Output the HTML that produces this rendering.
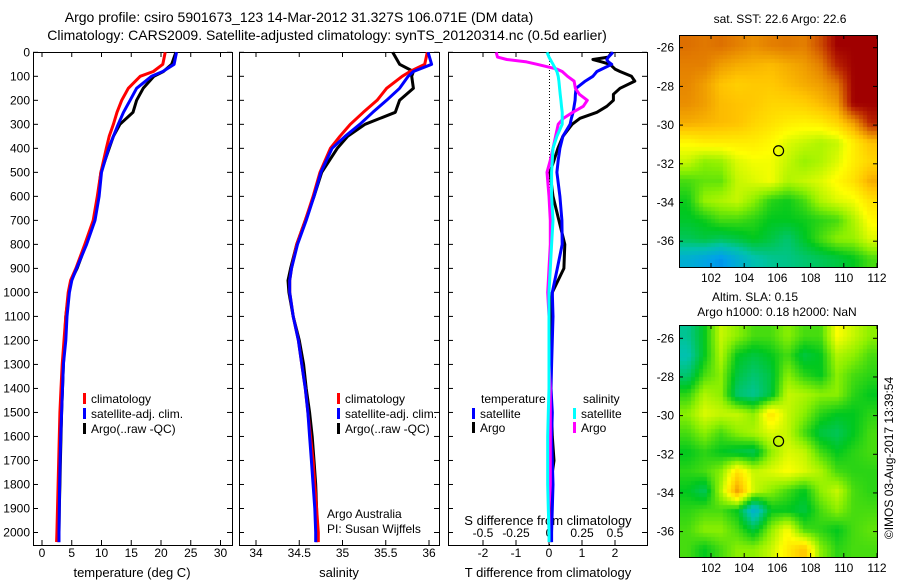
<!DOCTYPE html>
<html><head><meta charset="utf-8">
<style>
html,body{margin:0;padding:0;background:#fff;}
#root{position:relative;width:900px;height:580px;overflow:hidden;font-family:"Liberation Sans",sans-serif;}
svg{position:absolute;left:0;top:0;}
canvas{position:absolute;}
</style></head>
<body>
<div id="root">
<canvas id="map1" style="left:679px;top:35px" width="198" height="232"></canvas>
<canvas id="map2" style="left:679px;top:325px" width="198" height="232"></canvas>
<svg id="svg" width="900" height="580" xmlns="http://www.w3.org/2000/svg" font-family="Liberation Sans, sans-serif" font-size="12"></svg>
</div>
<script>
// ---------- data ----------
const depthTS = [0,50,80,100,150,200,250,300,350,400,500,600,700,800,900,950,1000,1100,1200,1300,1400,1500,1600,1700,1800,1900,2000,2040];
const tempClim = [20.7,20.3,18.7,16.5,14.5,13.4,12.6,12.0,11.3,10.8,9.9,9.3,8.6,7.2,5.7,4.8,4.4,4.0,3.7,3.4,3.2,3.0,2.9,2.8,2.7,2.6,2.5,2.45];
const tempSat = [22.6,22.2,20.3,18.4,15.9,14.8,13.7,12.8,12.0,11.2,10.0,9.6,8.9,7.5,5.8,5.0,4.6,4.2,4.0,3.6,3.45,3.3,3.15,3.05,2.95,2.9,2.85,2.85];
const tempArgo = [22.5,21.8,20.4,18.8,17.0,15.9,15.3,13.1,12.0,11.3,9.9,9.4,8.8,7.4,5.9,4.9,4.5,4.0,3.8,3.6,3.45,3.3,3.2,3.1,3.0,2.9,2.85,2.85];
const salClim = [35.98,35.95,35.78,35.69,35.51,35.40,35.24,35.09,34.97,34.86,34.74,34.66,34.57,34.47,34.41,34.39,34.39,34.43,34.49,34.53,34.57,34.60,34.63,34.66,34.68,34.70,34.72,34.72];
const salSat = [35.99,36.03,35.82,35.76,35.66,35.51,35.35,35.20,35.03,34.88,34.75,34.67,34.58,34.48,34.41,34.39,34.39,34.43,34.49,34.53,34.57,34.60,34.62,34.64,34.66,34.68,34.69,34.69];
const salArgo = [35.58,35.66,35.82,35.80,35.82,35.66,35.61,35.26,35.06,34.94,34.76,34.67,34.57,34.47,34.40,34.37,34.38,34.43,34.50,34.55,34.58,34.62,34.65,34.67,34.69,34.70,34.70,34.70];
const depthDiff = [0,20,30,40,50,70,80,100,120,150,175,200,225,250,275,300,350,400,450,500,600,700,800,900,1000,1100,1200,1300,1400,1500,1600,1700,1800,1900,2000,2040];
const tDiffSat = [1.94,1.8,1.75,1.8,1.9,1.6,1.45,1.33,1.1,0.82,0.8,0.79,0.76,0.73,0.68,0.64,0.42,0.33,0.28,0.24,0.33,0.39,0.4,0.25,0.1,0.12,0.1,0.08,0.06,0.1,0.08,0.1,0.12,0.1,0.08,0.08];
const tDiffArgo = [1.9,1.8,1.33,1.6,1.85,2.0,2.15,2.5,2.6,2.15,1.95,1.95,1.75,1.45,0.94,0.7,0.42,0.27,0.15,0.03,0.12,0.3,0.48,0.45,0.1,0.05,0.05,0.05,0.05,0.08,0.1,0.15,0.05,0.03,0.05,0.05];
const sDiffSat = [-0.015,0.0,0.01,0.02,0.03,0.05,0.06,0.07,0.075,0.08,0.085,0.09,0.095,0.1,0.1,0.1,0.06,0.03,0.025,0.02,0.02,0.03,0.02,0.01,0.0,0.0,0.0,0.0,0.0,-0.005,-0.01,-0.01,-0.01,-0.005,0.0,0.0];
const sDiffArgo = [-0.4,-0.39,-0.32,-0.17,-0.09,0.06,0.1,0.14,0.19,0.2,0.23,0.29,0.26,0.18,0.11,0.07,0.05,0.03,0.01,-0.015,0.0,0.01,0.01,0.0,-0.01,0.0,0.0,0.0,0.01,0.01,0.01,0.01,0.01,0.0,0.0,0.0];
const depthTicks = [0,100,200,300,400,500,600,700,800,900,1000,1100,1200,1300,1400,1500,1600,1700,1800,1900,2000];
const tempTicks = [0,5,10,15,20,25,30];
const salTicks = [34,34.5,35,35.5,36];
const tDiffTicks = [-2,-1,0,1,2];
const sDiffTicks = [-0.5,-0.25,0,0.25,0.5];
const sDiffTickLabels = ["-0.5","-0.25","0","0.25","0.5"];
const lonTicks = [102,104,106,108,110,112];
const latTicks = [-26,-28,-30,-32,-34,-36];
const argoLon = 106.071, argoLat = -31.327;
const sstGrid = [
[.86,.85,.86,.84,.82,.84,.85,.84,.9,1,1,1],
[.84,.84,.8,.78,.77,.76,.78,.8,.84,.95,1,1],
[.83,.8,.75,.73,.74,.74,.76,.78,.8,.85,1,1],
[.82,.8,.76,.75,.74,.72,.72,.73,.76,.8,1,1],
[.78,.77,.76,.75,.72,.7,.68,.67,.68,.72,.8,.95],
[.66,.68,.68,.68,.68,.66,.62,.6,.58,.6,.68,.75],
[.6,.55,.56,.62,.64,.64,.6,.56,.58,.62,.68,.72],
[.5,.52,.52,.6,.62,.64,.58,.6,.62,.66,.7,.78],
[.46,.56,.58,.6,.55,.48,.46,.5,.58,.62,.64,.7],
[.44,.46,.5,.5,.48,.45,.45,.46,.48,.5,.58,.66],
[.4,.42,.4,.42,.45,.42,.38,.44,.5,.55,.56,.62],
[.25,.22,.18,.25,.32,.35,.36,.38,.4,.42,.45,.5]];
const slaGrid = [
[.35,.45,.6,.55,.5,.5,.55,.5,.5,.65,.6,.55],
[.32,.45,.58,.45,.42,.45,.5,.42,.45,.58,.55,.5],
[.38,.5,.55,.42,.38,.42,.55,.48,.45,.55,.5,.48],
[.48,.58,.55,.38,.35,.42,.6,.58,.55,.55,.48,.45],
[.55,.62,.6,.6,.55,.7,.6,.55,.48,.45,.45,.48],
[.5,.55,.5,.55,.58,.62,.6,.5,.42,.4,.45,.5],
[.45,.48,.45,.42,.4,.55,.62,.6,.5,.45,.48,.5],
[.48,.5,.55,.7,.6,.62,.65,.62,.58,.5,.48,.48],
[.45,.4,.58,.8,.6,.55,.5,.45,.55,.6,.5,.48],
[.48,.5,.5,.45,.25,.45,.45,.42,.5,.55,.5,.5],
[.5,.55,.55,.5,.42,.55,.65,.5,.48,.45,.5,.52],
[.5,.45,.5,.55,.55,.6,.68,.75,.55,.48,.5,.5]];

// ---------- helpers ----------
const NS="http://www.w3.org/2000/svg";
const svg=document.getElementById('svg');
function mk(tag,attrs,parent){const e=document.createElementNS(NS,tag);for(const k in attrs)e.setAttribute(k,attrs[k]);(parent||svg).appendChild(e);return e;}
function txt(x,y,s,anchor,name,extra){const t=mk('text',Object.assign({x:x,y:y,'text-anchor':anchor||'start',fill:'#000'},extra||{}));t.textContent=s;


return t;}
const yD = d => 52.3 + d*0.2401;
const xT = v => 42 + v*5.95;
const xS = v => 256 + (v-34)*86.5;
const xTd = v => 549 + v*33;
const xSd = v => 549 + v*132;
const PT=52, PB=545;
const panels=[{l:33,r:232,name:'temperature-panel'},{l:239,r:439,name:'salinity-panel'},{l:448,r:647,name:'difference-panel'}];

// titles
txt(299,22,'Argo profile: csiro 5901673_123 14-Mar-2012 31.327S 106.071E (DM data)','middle','title-line-1',{'font-size':14});
txt(327,40,'Climatology: CARS2009. Satellite-adjusted climatology: synTS_20120314.nc (0.5d earlier)','middle','title-line-2',{'font-size':14});

function line(xs,ys,xf,color,name,w){
  let d='';xs.forEach((v,i)=>{d+=(i?'L':'M')+xf(v).toFixed(1)+','+yD(ys[i]).toFixed(1);});
  const p=mk('path',{d:d,fill:'none',stroke:color,'stroke-width':w||3,'stroke-linejoin':'round'});
  
  
}
// frames and ticks
panels.forEach((p,pi)=>{
  const r=mk('rect',{x:p.l+.5,y:PT+.5,width:p.r-p.l,height:PB-PT,fill:'none',stroke:'#000','stroke-width':1});
  
  
  depthTicks.forEach(d=>{const y=yD(d);
    mk('line',{x1:p.l,x2:p.l+5,y1:y,y2:y,stroke:'#000'});
    mk('line',{x1:p.r-5,x2:p.r,y1:y,y2:y,stroke:'#000'});});
});
depthTicks.forEach(d=>txt(30,yD(d)+4,String(d),'end','depth-tick-label'));
function xticks(ticks,xf,labels,pan,ly,name){
  ticks.forEach((t,i)=>{const x=xf(t);
    mk('line',{x1:x,x2:x,y1:PT,y2:PT+5,stroke:'#000'});
    mk('line',{x1:x,x2:x,y1:PB-5,y2:PB,stroke:'#000'});
    txt(x,ly,labels?labels[i]:String(t),'middle',name);});
}
xticks(tempTicks,xT,null,0,557,'temperature-tick-label');
xticks(salTicks,xS,null,1,557,'salinity-tick-label');
xticks(tDiffTicks,xTd,null,2,557,'t-diff-tick-label');
sDiffTicks.forEach((t,i)=>txt(xSd(t),537,sDiffTickLabels[i],'middle','s-diff-tick-label'));
txt(132,577,'temperature (deg C)','middle','x-axis-title-temperature',{'font-size':13});
txt(339,577,'salinity','middle','x-axis-title-salinity',{'font-size':13});
txt(548,577,'T difference from climatology','middle','x-axis-title-t-diff',{'font-size':13});
txt(548,525,'S difference from climatology','middle','s-diff-axis-title',{'font-size':13});
// zero dotted line
mk('line',{x1:549.5,x2:549.5,y1:PT,y2:PB,stroke:'#000','stroke-dasharray':'1,2'});

// series
line(tempArgo,depthTS,xT,'#000','temp-argo-line');
line(tempClim,depthTS,xT,'#f00','temp-climatology-line');
line(tempSat,depthTS,xT,'#00f','temp-satellite-line');
line(salArgo,depthTS,xS,'#000','salinity-argo-line');
line(salClim,depthTS,xS,'#f00','salinity-climatology-line');
line(salSat,depthTS,xS,'#00f','salinity-satellite-line');
line(tDiffArgo,depthDiff,xTd,'#000','t-diff-argo-line');
line(tDiffSat,depthDiff,xTd,'#00f','t-diff-satellite-line');
line(sDiffArgo,depthDiff,xSd,'#f0f','s-diff-argo-line');
line(sDiffSat,depthDiff,xSd,'#0ff','s-diff-satellite-line');

// legends
function leg(x,y,color,label,name){const r=mk('rect',{x:x,y:y-10,width:3,height:11,fill:color});
  
  
  txt(x+8,y,label,'start',name);}
leg(83,403,'#f00','climatology','legend-temp-climatology');
leg(83,418,'#00f','satellite-adj. clim.','legend-temp-satellite');
leg(83,433,'#000','Argo(..raw -QC)','legend-temp-argo');
leg(337,403,'#f00','climatology','legend-sal-climatology');
leg(337,418,'#00f','satellite-adj. clim.','legend-sal-satellite');
leg(337,433,'#000','Argo(..raw -QC)','legend-sal-argo');
txt(481,403,'temperature','start','legend-temperature-header');
txt(583,403,'salinity','start','legend-salinity-header');
leg(472,418,'#00f','satellite','legend-t-diff-satellite');
leg(472,432,'#000','Argo','legend-t-diff-argo');
leg(573,418,'#0ff','satellite','legend-s-diff-satellite');
leg(573,432,'#f0f','Argo','legend-s-diff-argo');
txt(327,518,'Argo Australia','start','credit-argo-australia');
txt(327,533,'PI: Susan Wijffels','start','credit-pi');

// ---------- maps ----------
const stops=[[0,[0,50,220]],[0.2,[0,160,235]],[0.33,[0,195,170]],[0.45,[0,200,30]],[0.55,[140,240,0]],[0.65,[255,255,0]],[0.75,[255,195,0]],[0.85,[225,120,0]],[0.95,[185,35,0]],[1,[160,0,0]]];
function cmap(v){v=Math.max(0,Math.min(1,v));for(let i=1;i<stops.length;i++){if(v<=stops[i][0]){const a=stops[i-1],b=stops[i],f=(v-a[0])/(b[0]-a[0]);return a[1].map((c,k)=>Math.round(c+(b[1][k]-c)*f));}}return stops[stops.length-1][1];}
function drawMap(id,grid,y0,ppd,block){
  const c=document.getElementById(id),ctx=c.getContext('2d');
  const top=parseFloat(c.style.top);
  for(let py=0;py<232;py+=block)for(let px=0;px<198;px+=block){
    const lon=102+((679+px+block/2)-711)/16.6;
    const lat=-26-((top+py+block/2)-y0)/ppd;
    let gi=lon-100.6, gj=-25.9-lat;
    gi=Math.max(0,Math.min(10.999,gi));gj=Math.max(0,Math.min(10.999,gj));
    const i=Math.floor(gi),j=Math.floor(gj),fi=gi-i,fj=gj-j;
    const v=grid[j][i]*(1-fi)*(1-fj)+grid[j][i+1]*fi*(1-fj)+grid[j+1][i]*(1-fi)*fj+grid[j+1][i+1]*fi*fj;
    const col=cmap(v);ctx.fillStyle='rgb('+col.join(',')+')';ctx.fillRect(px,py,block,block);
  }
}
drawMap('map1',sstGrid,47.7,19.35,4);
drawMap('map2',slaGrid,338.3,19.33,4);
function mapAxes(top,bottom,y0,ppd,name){
  const r=mk('rect',{x:679.5,y:top+.5,width:198,height:bottom-top,fill:'none',stroke:'#000'});
  
  
  lonTicks.forEach(l=>{const x=711+(l-102)*16.6;
    mk('line',{x1:x,x2:x,y1:top,y2:top+4,stroke:'#000'});mk('line',{x1:x,x2:x,y1:bottom-4,y2:bottom,stroke:'#000'});
    txt(x,bottom+15,String(l),'middle',name+'-lon-label');});
  latTicks.forEach(l=>{const y=y0+(-26-l)*ppd;
    mk('line',{x1:679,x2:683,y1:y,y2:y,stroke:'#000'});mk('line',{x1:873,x2:877,y1:y,y2:y,stroke:'#000'});
    txt(674,y+4,String(l),'end',name+'-lat-label');});
  const cy=y0+(-26-argoLat)*ppd, cx=711+(argoLon-102)*16.6;
  const c=mk('circle',{cx:cx,cy:cy,r:5,fill:'none',stroke:'#000','stroke-width':1.2});
  
  
}
mapAxes(35,267,47.7,19.35,'sst-map');
mapAxes(325,557,338.3,19.33,'sla-map');
txt(780,23,'sat. SST: 22.6 Argo: 22.6','middle','sst-map-title');
txt(755,301,'Altim. SLA: 0.15','middle','sla-map-title');
txt(777,316,'Argo h1000: 0.18 h2000: NaN','middle','sla-map-subtitle');
txt(0,0,'©IMOS 03-Aug-2017 13:39:54','middle','imos-timestamp',{transform:'translate(893,458) rotate(-90)'});
</script>
</body></html>
